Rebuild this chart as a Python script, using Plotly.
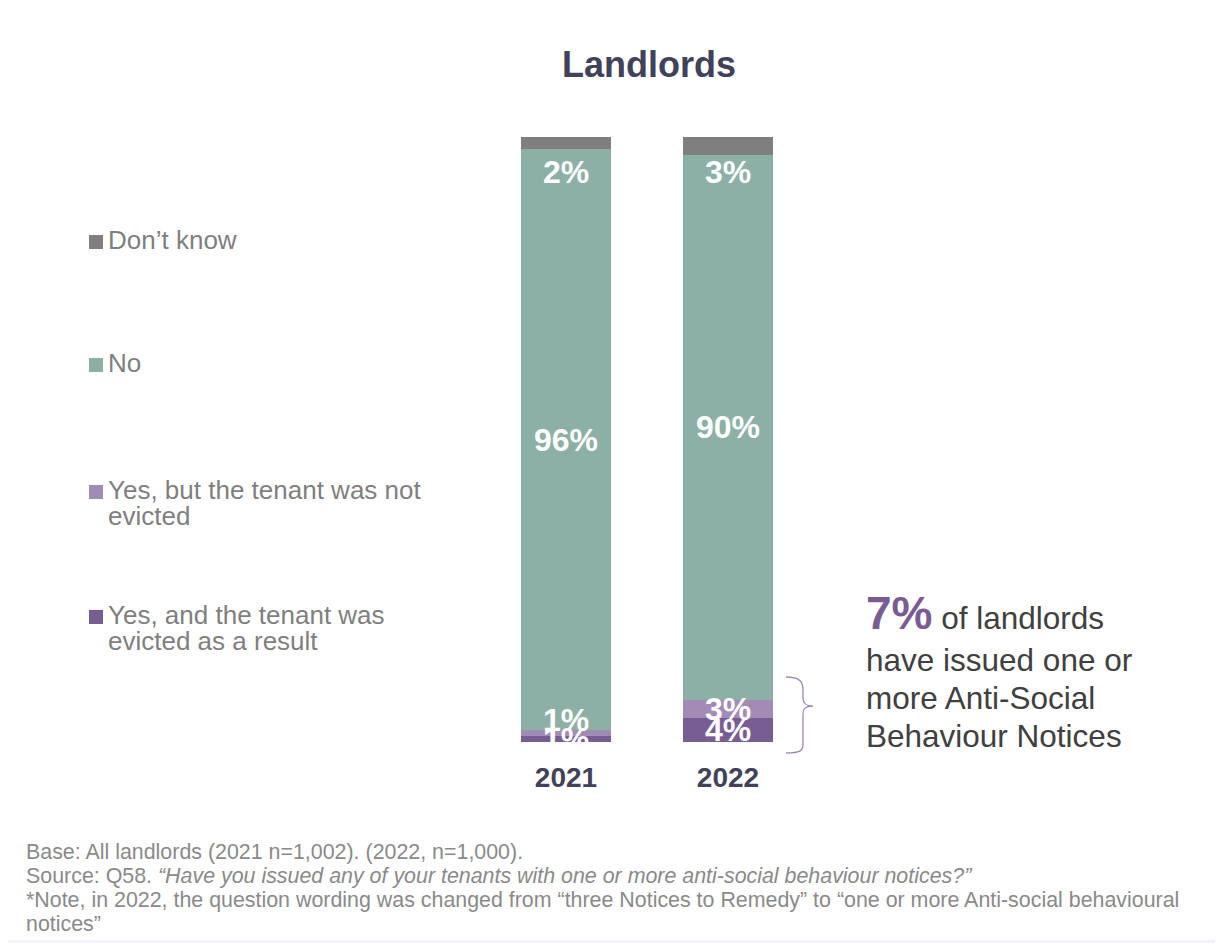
import numpy as np
import plotly.graph_objects as go

# ---------------- data ----------------
years = ["2021", "2022"]
evicted = [1, 4]          # Yes, and the tenant was evicted as a result
not_evicted = [1, 3]      # Yes, but the tenant was not evicted
no = [96, 90]             # No
dont_know = [2, 3]        # Don't know

series_lines = [
    ["Yes, and the tenant was", "evicted as a result"],
    ["Yes, but the tenant was not", "evicted"],
    ["No"],
    ["Don\u2019t know"],
]
series_values = [evicted, not_evicted, no, dont_know]
series_colors = ["#775d91", "#a28bb6", "#8cafa6", "#7f7f7f"]

title_text = "Landlords"
callout_value = "7%"
callout_lines = ["of landlords", "have issued one or", "more Anti-Social", "Behaviour Notices"]
footer_lines = [
    "Base: All landlords (2021 n=1,002). (2022, n=1,000).",
    "Source: Q58. <i>\u201cHave you issued any of your tenants with one or more anti-social behaviour notices?\u201d</i>",
    "*Note, in 2022, the question wording was changed from \u201cthree Notices to Remedy\u201d to \u201cone or more Anti-social behavioural",
    "notices\u201d",
]

# ---------------- layout geometry (screen pixels) ----------------
OFF = 8                      # page body margin
W, H = 1223 - OFF, 943 - OFF  # figure size
L, R, T, B = 485, 809, 137, 742  # plot area in screen pixels
FONT = "Liberation Sans, Arial, sans-serif"


def px(x):
    return (x - L) / (R - L)


def py(y):
    return (B - y) / (B - T)


fig = go.Figure()
for lines, vals, col in zip(series_lines, series_values, series_colors):
    fig.add_trace(go.Bar(
        x=years, y=vals, name=" ".join(lines), marker_color=col,
        marker_line_width=0, width=0.556, showlegend=False,
        hoverinfo="x+y+name",
    ))

annotations = []
shapes = []

# segment labels
vals_arr = np.array(series_values, dtype=float)
cum = np.cumsum(vals_arr, axis=0)
label_shift = [[0, 0], [13, 0], [0, 0], [0, 0]]
for si in range(len(series_values)):
    for yi, yr in enumerate(years):
        v = vals_arr[si, yi]
        if si == len(series_values) - 1:
            yv, ys = float(cum[si, yi]), -35
        else:
            yv, ys = float(cum[si, yi] - v / 2), label_shift[si][yi]
        annotations.append(dict(
            x=yi, y=yv, xref="x", yref="y", yshift=ys, showarrow=False,
            text="<b>%d%%</b>" % int(v), yanchor="middle", xanchor="center",
            font=dict(family=FONT, size=32, color="white"),
        ))

# custom legend (top to bottom)
legend_y = [615, 490, 363, 240]
for lines, col, ly in zip(series_lines, series_colors, legend_y):
    shapes.append(dict(type="rect", xref="paper", yref="paper",
                       x0=px(89), x1=px(103), y0=py(ly + 9), y1=py(ly - 5),
                       fillcolor=col, line_width=0))
    for k, t in enumerate(lines):
        annotations.append(dict(
            x=px(106), y=py(ly + 26 * k), xref="paper", yref="paper",
            text=t, showarrow=False, xanchor="left", yanchor="middle",
            font=dict(family=FONT, size=26, color="#7f7f7f"),
        ))

# callout text
annotations.append(dict(
    x=px(864), y=py(613), xref="paper", yref="paper", showarrow=False,
    xanchor="left", yanchor="middle",
    text="<span style='font-size:46px;color:#7a5c92'><b>%s</b></span> %s" % (callout_value, callout_lines[0]),
    font=dict(family=FONT, size=31.5, color="#404040"),
))
for k, t in enumerate(callout_lines[1:]):
    annotations.append(dict(
        x=px(864), y=py(660 + 38 * k), xref="paper", yref="paper", showarrow=False,
        xanchor="left", yanchor="middle", text=t,
        font=dict(family=FONT, size=31.5, color="#404040"),
    ))

# brace
path = "M %f,%f C %f,%f %f,%f %f,%f L %f,%f C %f,%f %f,%f %f,%f" % (
    px(786), py(677), px(800), py(677), px(803), py(682), px(803), py(690),
    px(803), py(698), px(803), py(704), px(806), py(706), px(813), py(706))
path += " M %f,%f C %f,%f %f,%f %f,%f L %f,%f C %f,%f %f,%f %f,%f" % (
    px(813), py(706), px(806), py(706), px(803), py(708), px(803), py(714),
    px(803), py(744), px(803), py(751), px(800), py(753), px(786), py(753))
shapes.append(dict(type="path", xref="paper", yref="paper", path=path,
                   line=dict(color="#9d88b5", width=1.3)))

# footer
footer_y = [852, 876, 900, 924]
for t, fy in zip(footer_lines, footer_y):
    annotations.append(dict(
        x=px(24), y=py(fy), xref="paper", yref="paper", showarrow=False,
        xanchor="left", yanchor="middle", text=t,
        font=dict(family=FONT, size=21.4, color="#8a8a8a"),
    ))

# light strip at the bottom of the page
shapes.insert(0, dict(type="rect", xref="paper", yref="paper", layer="below",
                      x0=px(0), x1=px(1240), y0=py(960), y1=py(940),
                      fillcolor="#f3f2f7", line_width=0))

fig.update_layout(
    width=W, height=H, autosize=False,
    margin=dict(l=L - OFF, r=W - (R - OFF), t=T - OFF, b=H - (B - OFF), pad=0),
    barmode="stack", bargap=0,
    paper_bgcolor="white", plot_bgcolor="rgba(0,0,0,0)",
    title=dict(text="<b>%s</b>" % title_text, x=px(649), xref="paper",
               y=1 - (64 - OFF) / H, yref="container", xanchor="center", yanchor="middle",
               font=dict(family=FONT, size=36, color="#41425a")),
    xaxis=dict(type="category", range=[-0.5, 1.5], showgrid=False, zeroline=False,
               showline=False, ticks="", tickvals=years,
               ticktext=["<b>%s</b>" % y for y in years], ticklabelstandoff=16,
               tickfont=dict(family=FONT, size=28, color="#41425a")),
    yaxis=dict(range=[0, 100], visible=False, fixedrange=True),
    annotations=annotations, shapes=shapes, showlegend=False,
)

fig.write_html("out.html")
